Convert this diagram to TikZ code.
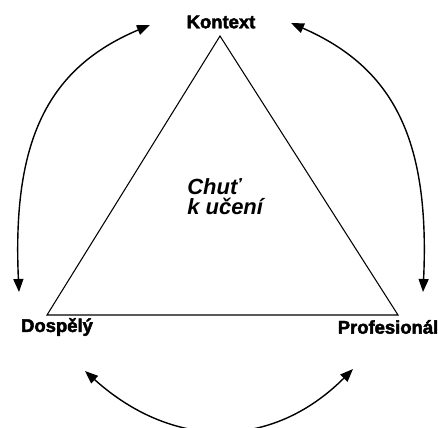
\documentclass[tikz,border=0pt]{standalone}
\usepackage{fontspec}
\setmainfont{Liberation Sans}[BoldFeatures={FakeBold=2.5}]
\usetikzlibrary{arrows.meta}

\begin{document}
\begin{tikzpicture}[x=0.02cm,y=-0.02cm,
    every node/.style={font=\fontsize{10.5}{12}\selectfont\bfseries},
    lbl/.style={inner sep=0pt},
    arc/.style={line width=0.8pt,{Triangle[length=2.6mm,width=2mm]}-{Triangle[length=2.6mm,width=2mm]}}]
  \useasboundingbox (0,0) rectangle (438,427);
  \clip (0,0) rectangle (438,427);
  % labels
  \node[lbl] (kontext) at (221,22) {Kontext};
  \node[lbl] (dospely) at (57,327) {Dospělý};
  \node[lbl] (prof) at (388,327) {Profesionál};
  \node[lbl,anchor=north west,align=left,font=\fontsize{12.5}{11.5}\selectfont\bfseries\itshape]
    (chut) at (187,178) {Chuť\\k učení};
  % triangle
  \coordinate (apex) at (220,36);
  \coordinate (bl) at (47,315);
  \coordinate (br) at (398,315);
  \draw[line width=0.6pt] (apex) -- (br) -- (bl) -- cycle;
  % arcs
  \coordinate (kl) at (150,25);  \coordinate (kr) at (291,23);
  \coordinate (dt) at (19,292);  \coordinate (pt) at (423,292);
  \coordinate (db) at (85,371);  \coordinate (pb) at (353,369);
  \draw[arc] (dt) .. controls (12,140) and (48,68) .. (kl);
  \draw[arc] (pt) .. controls (430,140) and (394,68) .. (kr);
  \draw[arc] (db) .. controls (173,450) and (272,450) .. (pb);
\end{tikzpicture}
\end{document}
